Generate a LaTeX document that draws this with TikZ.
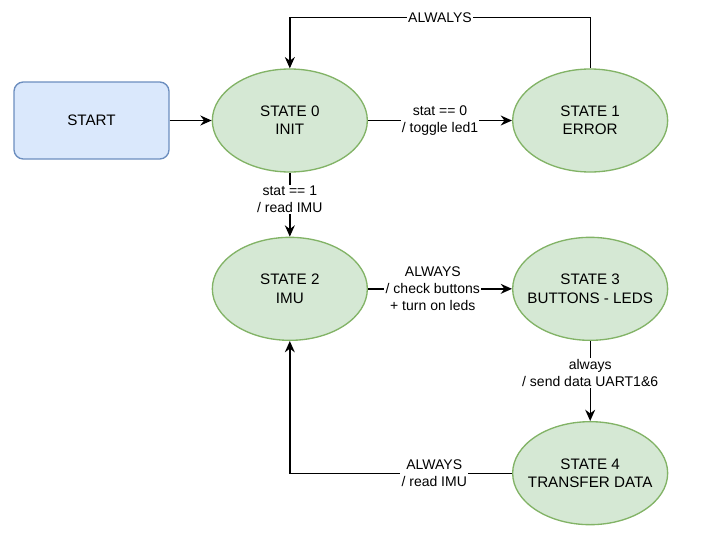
\documentclass[tikz,border=0pt]{standalone}
\usepackage{fontspec}
\setmainfont{Liberation Sans}
\usetikzlibrary{shapes.geometric, arrows, arrows.meta, positioning, calc}

\definecolor{startfill}{HTML}{DAE8FC}
\definecolor{startline}{HTML}{6C8EBF}
\definecolor{statefill}{HTML}{D5E8D4}
\definecolor{stateline}{HTML}{82B366}

\begin{document}
\begin{tikzpicture}[
    x=0.75pt, y=-0.75pt,
    node distance=31.5pt,
    startbox/.style={rectangle, draw=startline, fill=startfill, line width=1pt, minimum width=116.25pt, minimum height=57.75pt, rounded corners=7pt, font=\fontsize{11.4}{13.7}\selectfont},
    stateblock/.style={ellipse, draw=stateline, fill=statefill, line width=1pt, minimum width=116.25pt, minimum height=77.25pt, inner xsep=-15pt, inner ysep=0pt, align=center, font=\fontsize{11.4}{13.7}\selectfont},
    edgelabel/.style={fill=white, inner sep=1pt, align=center, font=\fontsize{10.5}{12.5}\selectfont},
    arrow/.style={->, >={Stealth[length=8.5pt, width=7.5pt, inset=2.8pt]}, line width=1pt}
]

\useasboundingbox (0,0) rectangle (703,532);

\node[startbox] (start) at (91.5,120.5) {START};
\node[stateblock, right=of start] (init) {STATE 0\\INIT};
\node[stateblock, right=108pt of init] (error) {STATE 1\\ERROR};
\node[stateblock, below=48pt of init] (imu) {STATE 2\\IMU};
\node[stateblock, right=108pt of imu] (buttons) {STATE 3\\BUTTONS - LEDS};
\node[stateblock, below=60pt of buttons] (transfer) {STATE 4\\TRANSFER DATA};

\draw[arrow] (start) -- (init);
\draw[arrow] (init) -- node[edgelabel] {stat == 0\\/ toggle led1} (error);
\draw[arrow] (error.north) -- ++(0,-51) -| node[edgelabel, pos=0.25] {ALWALYS} (init.north);
\draw[arrow] (init) -- node[edgelabel, pos=0.42] {stat == 1\\/ read IMU} (imu);
\draw[arrow] (imu) -- node[edgelabel, pos=0.45] {ALWAYS\\/ check buttons\\+ turn on leds} (buttons);
\draw[arrow] (buttons) -- node[edgelabel, pos=0.4] {always\\/ send data UART1\&6} (transfer);
\draw[arrow] (transfer) -| node[edgelabel, pos=0.175] {ALWAYS\\/ read IMU} (imu);

\end{tikzpicture}
\end{document}
